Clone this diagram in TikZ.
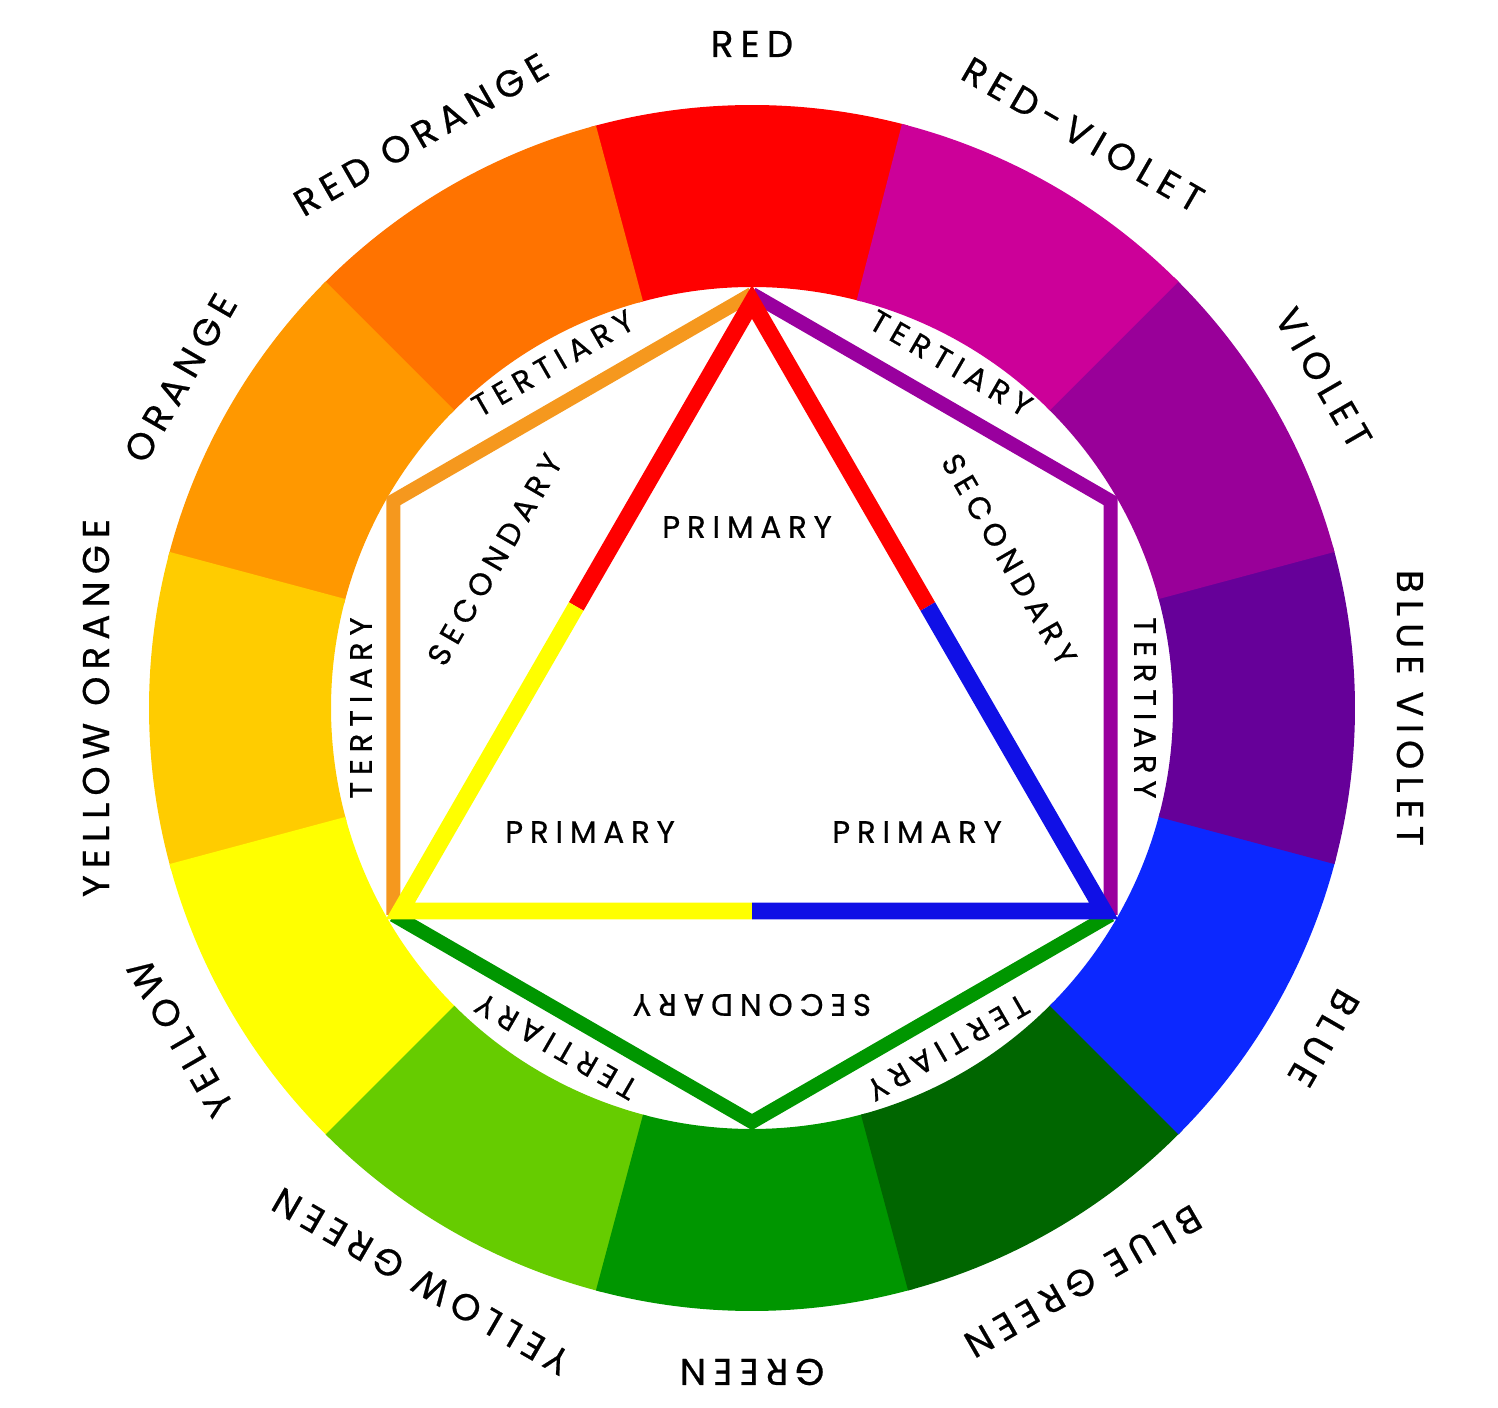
\documentclass[tikz,border=0pt]{standalone}
\usepackage{fontspec}
\usepackage{xcolor}
\usepackage{tikz}
\usetikzlibrary{positioning}
\newfontfamily\rimfont[LetterSpace=19, FakeBold=0.6]{Poppins}
\newfontfamily\tagfont[LetterSpace=22, FakeBold=0.6]{Poppins}
\definecolor{wheelred}{RGB}{255, 0, 0}
\definecolor{wheelredorange}{RGB}{255, 115, 0}
\definecolor{wheelorange}{RGB}{255, 152, 0}
\definecolor{wheelyelloworange}{RGB}{255, 204, 0}
\definecolor{wheelyellow}{RGB}{255, 255, 0}
\definecolor{wheelyellowgreen}{RGB}{102, 204, 0}
\definecolor{wheelgreen}{RGB}{0, 150, 0}
\definecolor{wheelbluegreen}{RGB}{0, 102, 0}
\definecolor{wheelblue}{RGB}{12, 40, 255}
\definecolor{wheelblueviolet}{RGB}{102, 0, 153}
\definecolor{wheelviolet}{RGB}{153, 0, 153}
\definecolor{wheelredviolet}{RGB}{204, 0, 153}
\definecolor{lineorange}{RGB}{245, 152, 30}
\definecolor{lineviolet}{RGB}{153, 0, 158}
\definecolor{lineblue}{RGB}{16, 16, 230}

\begin{document}
\begin{tikzpicture}[
    x=0.01cm, y=0.01cm,
    rim/.style={font=\rimfont\fontsize{10.6}{12}\selectfont},
    tag/.style={font=\tagfont\fontsize{8.8}{10}\selectfont},
    tri/.style={line width=4.8pt},
    hex/.style={line width=4pt}
]
\useasboundingbox (-752,-699) rectangle (746,708);

\foreach \a/\c in {90/wheelred, 120/wheelredorange, 150/wheelorange, 180/wheelyelloworange,
                   210/wheelyellow, 240/wheelyellowgreen, 270/wheelgreen, 300/wheelbluegreen,
                   330/wheelblue, 360/wheelblueviolet, 390/wheelviolet, 420/wheelredviolet}
  \fill[\c] (\a-15:421) arc[start angle=\a-15, end angle=\a+15.6, radius=421]
    -- (\a+15.6:603) arc[start angle=\a+15.6, end angle=\a-15, radius=603] -- cycle;

\coordinate (htop) at (90:414);
\coordinate (hul) at (150:414);
\coordinate (hbl) at (210:414);
\coordinate (hbot) at (270:414);
\coordinate (hbr) at (330:414);
\coordinate (hur) at (30:414);

\coordinate (top) at (90:406);
\coordinate (bl) at (210:406);
\coordinate (br) at (330:406);
\coordinate (lmid) at (150:203);
\coordinate (rmid) at (30:203);
\coordinate (bmid) at (270:203);

\draw[hex, lineorange] (htop) -- (hul) -- (hbl);
\draw[hex, lineviolet] (htop) -- (hur) -- (hbr);
\draw[hex, wheelgreen] (hbl) -- (hbot) -- (hbr);

\draw[tri, wheelred] (lmid) -- (top) -- (rmid);
\draw[tri, wheelyellow] (lmid) -- (bl) -- (bmid);
\draw[tri, lineblue] (rmid) -- (br) -- (bmid);

\node[rim] (red) at (90:664) {RED};
\node[rim, rotate=30] (redorange) at (120:662) {RED ORANGE};
\node[rim, rotate=60] (orange) at (150:660) {ORANGE};
\node[rim, rotate=90] (yelloworange) at (180:656) {YELLOW ORANGE};
\node[rim, rotate=120] (yellow) at (210:660) {YELLOW};
\node[rim, rotate=150] (yellowgreen) at (240:662) {YELLOW GREEN};
\node[rim, rotate=180] (green) at (270:664) {GREEN};
\node[rim, rotate=210] (bluegreen) at (300:662) {BLUE GREEN};
\node[rim, rotate=240] (blue) at (330:660) {BLUE};
\node[rim, rotate=270] (blueviolet) at (0:658) {BLUE VIOLET};
\node[rim, rotate=300] (violet) at (30:660) {VIOLET};
\node[rim, rotate=330] (redviolet) at (60:662) {RED-VIOLET};

\node[tag] (ptop) at (-5,181) {PRIMARY};
\node[tag] (pleft) at (-162,-124) {PRIMARY};
\node[tag] (pright) at (165,-124) {PRIMARY};

\node[tag, rotate=60] (sleft) at (150:297) {SECONDARY};
\node[tag, rotate=-60] (sright) at (30:297) {SECONDARY};
\node[tag, rotate=180] (sbot) at (270:297) {SECONDARY};

\node[tag, rotate=30] (tul) at (120:398) {TERTIARY};
\node[tag, rotate=90] (tl) at (180:391) {TERTIARY};
\node[tag, rotate=150] (tbl) at (240:391) {TERTIARY};
\node[tag, rotate=210] (tbr) at (300:392) {TERTIARY};
\node[tag, rotate=-90] (tr) at (0:393) {TERTIARY};
\node[tag, rotate=-30] (tur) at (60:398) {TERTIARY};
\end{tikzpicture}
\end{document}
